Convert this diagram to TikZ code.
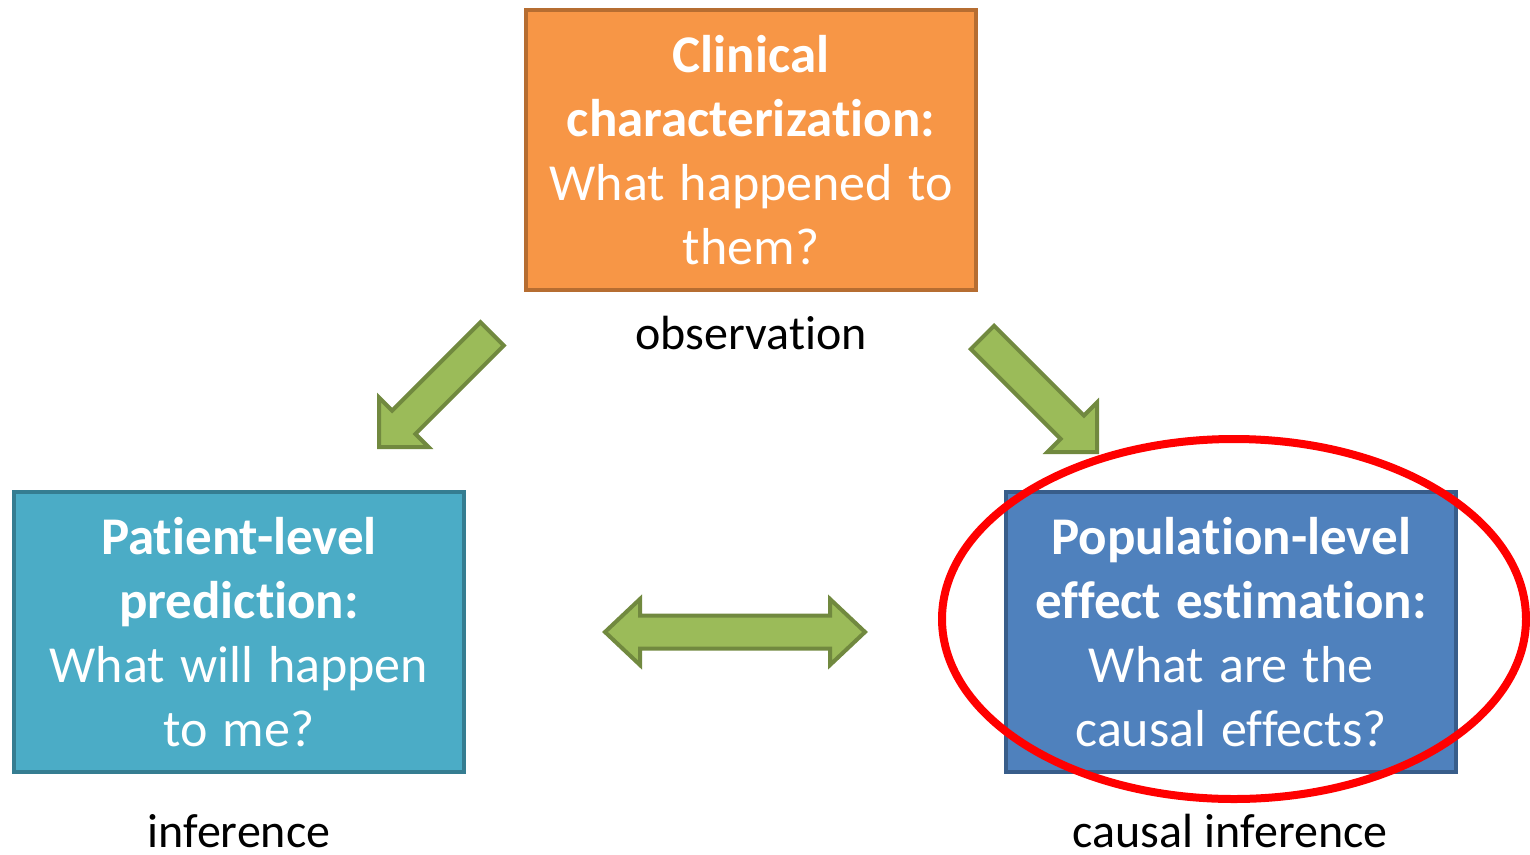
\documentclass[tikz,border=0pt]{standalone}
\usepackage{fontspec}
\usetikzlibrary{shapes.geometric}
\setmainfont{Carlito}[Ligatures=NoCommon]
\begin{document}
\begin{tikzpicture}[x=1pt,y=-1pt,
  box/.style={draw, line width=4pt, minimum width=450pt, minimum height=280pt,
    text width=440pt, align=center, text=white, inner sep=0pt,
    font=\fontsize{52}{64}\selectfont, execute at begin node={\spaceskip=0.29em\relax}},
  lbl/.style={anchor=base, text=black, inner sep=0pt, font=\fontsize{48}{58}\selectfont,
    execute at begin node={\spaceskip=0.24em\relax}},
  blockarrow/.style={draw=arrowborder, fill=arrowfill, line width=4pt, line join=miter}
]
\definecolor{orangefill}{HTML}{F79646}
\definecolor{orangeborder}{HTML}{B66D31}
\definecolor{tealfill}{HTML}{4BACC6}
\definecolor{tealborder}{HTML}{357D91}
\definecolor{bluefill}{HTML}{4F81BD}
\definecolor{blueborder}{HTML}{385D8A}
\definecolor{arrowfill}{HTML}{9BBB59}
\definecolor{arrowborder}{HTML}{71893F}
\newcommand{\hd}[1]{{\fontsize{53}{64}\selectfont\bfseries #1}}
\useasboundingbox (0,0) rectangle (1530,854);

\node[box, fill=orangefill, draw=orangeborder] (clin) at (751,150)
  {\hd{Clinical}\\\hd{characterization:}\\What happened to\\them?};
\node[box, fill=tealfill, draw=tealborder] (plp) at (239,632)
  {\hd{Patient-level}\\\hd{prediction:}\\What will happen\\to me?};
\node[box, fill=bluefill, draw=blueborder] (ple) at (1231,632)
  {\hd{Population-level}\\\hd{effect estimation:}\\What are the\\causal effects?};

\node[lbl] (obs) at (751,349) {observation};
\node[lbl] (inf) at (239,847) {inference};
\node[lbl] (cinf) at (1230,847) {causal inference};

% diagonal block arrows
\begin{scope}[shift={(379,447)}, rotate=225]
  \draw[blockarrow] (0,0) -- (-35,35) -- (-35,16.5) -- (-160,16.5) -- (-160,-16.5)
    -- (-35,-16.5) -- (-35,-35) -- cycle;
\end{scope}
\begin{scope}[shift={(1097,452)}, rotate=-45]
  \draw[blockarrow] (0,0) -- (-35,35) -- (-35,16.5) -- (-162,16.5) -- (-162,-16.5)
    -- (-35,-16.5) -- (-35,-35) -- cycle;
\end{scope}
% double arrow
\begin{scope}[shift={(735,632)}]
  \draw[blockarrow] (-130,0) -- (-95,-33) -- (-95,-16.5) -- (95,-16.5) -- (95,-33)
    -- (130,0) -- (95,33) -- (95,16.5) -- (-95,16.5) -- (-95,33) -- cycle;
\end{scope}

\node[draw=red, line width=8pt, ellipse, minimum width=584pt, minimum height=360pt, inner sep=0pt] (circ) at (1234,619) {};
\end{tikzpicture}
\end{document}
